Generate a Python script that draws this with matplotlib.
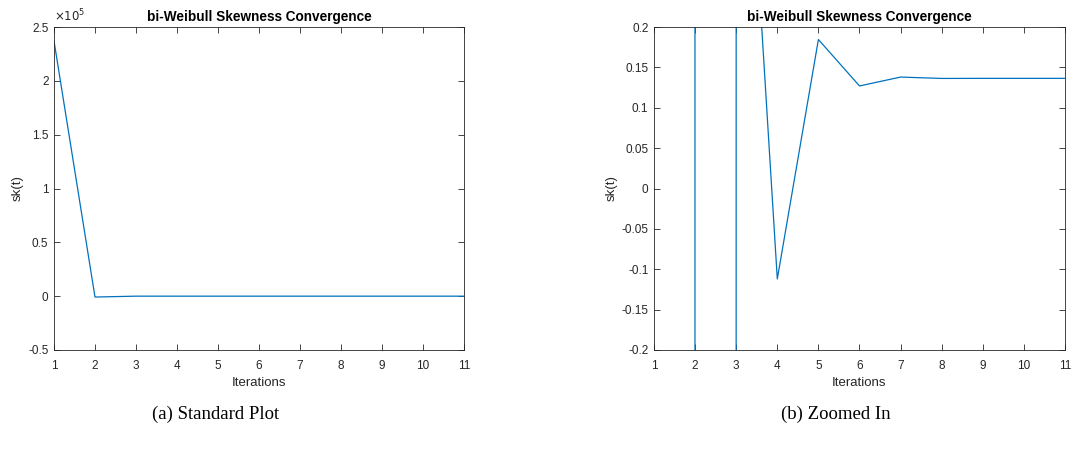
"""
bi-Weibull skewness convergence, standard and zoomed views (MATLAB-style).
"""
import numpy as np
import matplotlib
matplotlib.use("Agg")
import matplotlib.pyplot as plt
from matplotlib.ticker import FuncFormatter

plt.rcParams["font.family"] = ["Liberation Sans", "DejaVu Sans"]
plt.rcParams["axes.unicode_minus"] = False

iterations = [1, 2, 3, 4, 5, 6, 7, 8, 9, 10, 11]
skewness = [2.37e5, -800.0, 0.71, -0.112, 0.1845, 0.127, 0.138, 0.1363, 0.1364, 0.1364, 0.1364]

std_yticks = [-0.5e5, 0, 0.5e5, 1e5, 1.5e5, 2e5, 2.5e5]
zoom_yticks = [-0.2, -0.15, -0.1, -0.05, 0, 0.05, 0.1, 0.15, 0.2]
xticks = list(range(1, 12))

TITLE = "bi-Weibull Skewness Convergence"
LINE = "#0072BD"
AX = "#262626"

fig = plt.figure(figsize=(10.73, 4.49), dpi=100)
ax1 = fig.add_axes([54 / 1073, 1 - 350 / 449, 410 / 1073, 323 / 449])
ax2 = fig.add_axes([654 / 1073, 1 - 350 / 449, 411 / 1073, 323 / 449])


def style(ax):
    ax.plot(iterations, skewness, color=LINE, lw=0.9)
    ax.set_xlim(1, 11)
    ax.set_xticks(xticks)
    ax.tick_params(direction="in", length=4, width=0.6, top=True, right=True,
                   labelsize=8.5, colors=AX)
    ax.tick_params(axis="x", pad=7)
    ax.tick_params(axis="y", pad=4)
    for s in ax.spines.values():
        s.set_linewidth(0.6); s.set_color(AX)
    ax.set_title(TITLE, fontsize=9.8, fontweight="bold", color="black", pad=4)
    ax.set_xlabel("Iterations", fontsize=9.5, color=AX, labelpad=4)
    ax.set_ylabel("sk(t)", fontsize=9.5, color=AX, labelpad=3)


style(ax1)
ax1.set_ylim(-0.5e5, 2.5e5)
ax1.set_yticks(std_yticks)
ax1.yaxis.set_major_formatter(FuncFormatter(lambda v, p: f"{v / 1e5:g}"))
ax1.text(0.0, 1.008, r"$\times10^5$", transform=ax1.transAxes, fontsize=8.5,
         color=AX, ha="left", va="bottom")

style(ax2)
ax2.set_ylim(-0.2, 0.2)
ax2.set_yticks(zoom_yticks)
ax2.yaxis.set_major_formatter(FuncFormatter(lambda v, p: f"{v:g}"))

fig.text(216 / 1073, 1 - 414 / 449, "(a) Standard Plot", fontsize=13.5,
         family=["Liberation Serif", "DejaVu Serif"], ha="center", va="center")
fig.text(836 / 1073, 1 - 414 / 449, "(b) Zoomed In", fontsize=13.5,
         family=["Liberation Serif", "DejaVu Serif"], ha="center", va="center")

fig.savefig("out.png", dpi=100)
